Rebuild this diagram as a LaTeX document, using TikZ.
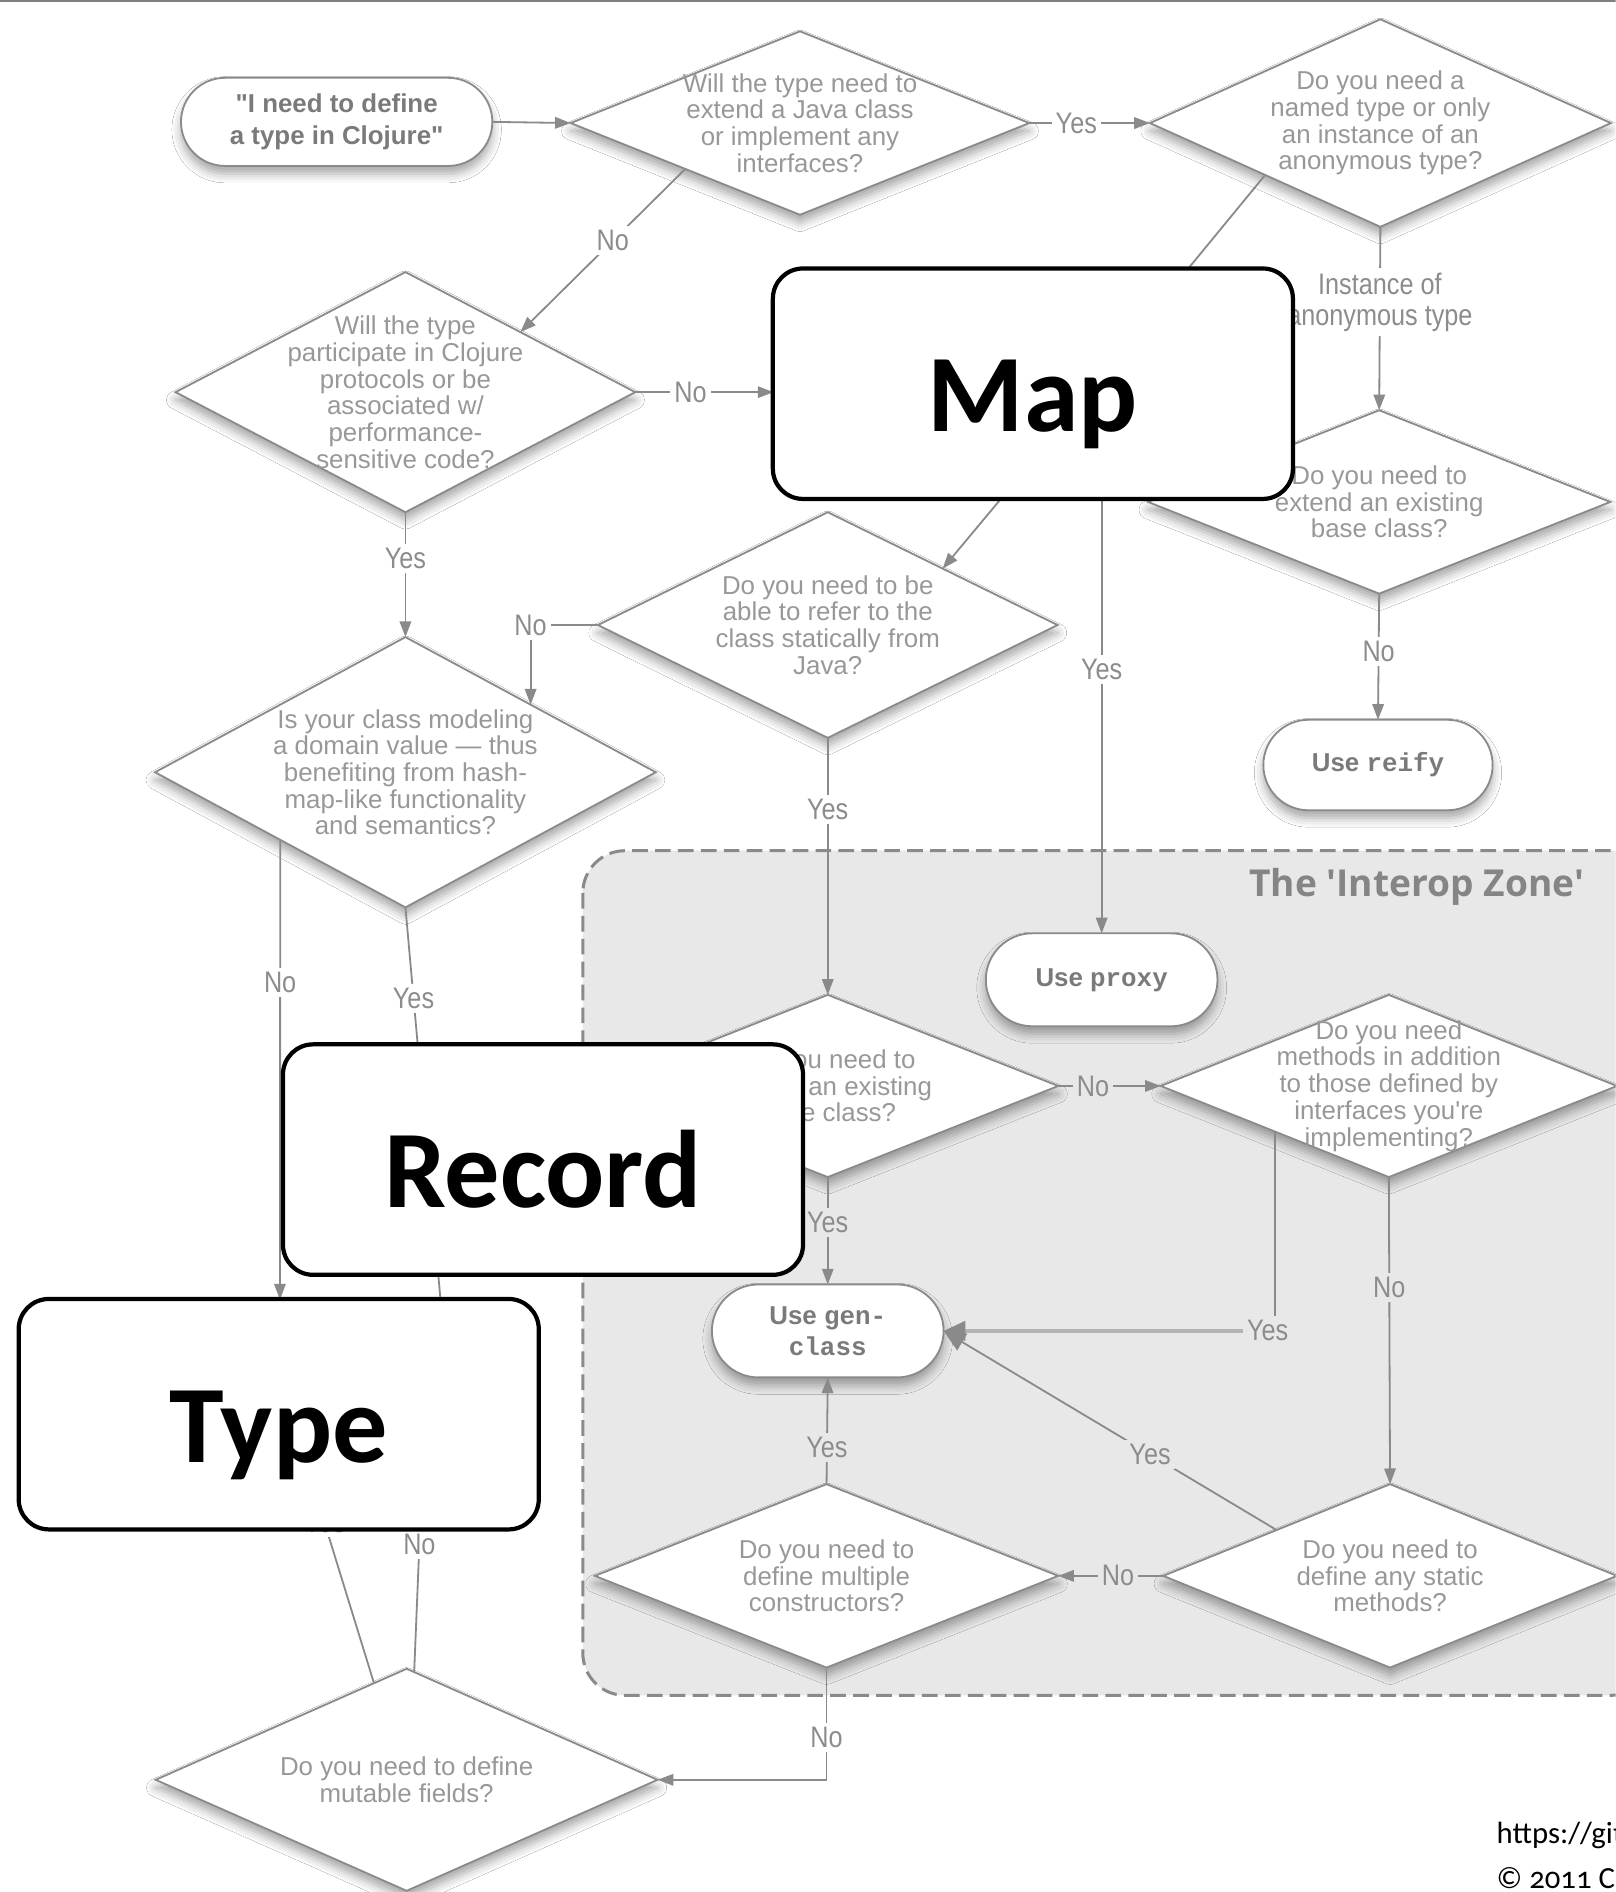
\documentclass[tikz,border=0pt]{standalone}
\usepackage{fontspec}
\setmainfont{Liberation Sans}
\newfontfamily\rawfam[Ligatures=TeXOff]{Liberation Sans}
\newfontfamily\lblfam[FakeStretch=0.85]{Liberation Sans}
\newfontfamily\bigfam{Carlito}
\newfontfamily\credfam[Numbers=OldStyle]{Carlito}
\newfontfamily\zonefam[Ligatures=TeXOff]{Open Sans}
\newfontfamily\monofam{Liberation Mono}
\usetikzlibrary{shapes.geometric,shapes.misc,arrows.meta,shadows.blur,calc}
\definecolor{lgray}{HTML}{8A8A8A}
\definecolor{llgray}{HTML}{B4B4B4}
\definecolor{tgray}{HTML}{989898}
\definecolor{sgray}{HTML}{7A7A7A}
\definecolor{lbgray}{HTML}{8C8C8C}
\definecolor{zonegray}{HTML}{E8E8E8}
\definecolor{ztext}{HTML}{858585}
\begin{document}
\begin{tikzpicture}[x=0.2mm,y=-0.2mm,
  line/.style={draw=lgray, line width=0.3mm},
  arr/.style={line, -{Triangle[length=2.6mm,width=1.9mm]}},
  bigarr/.style={line, -{Triangle[length=3.6mm,width=3.2mm]}},
  shad/.style={blur shadow={shadow xshift=0pt, shadow yshift=-1.3mm, shadow blur radius=1.5mm, shadow opacity=35}},
  dsz/.style 2 args={minimum width=#1*0.2mm, minimum height=#2*0.2mm},
  dia/.style={diamond, draw=lgray, line width=0.3mm, fill=white, inner sep=0pt, outer sep=0pt, shad},
  dtext/.style={text=tgray, align=center, inner sep=0pt, font=\fontsize{12.2pt}{12.6pt}\selectfont},
  stad/.style={rounded rectangle, draw=lgray, line width=0.3mm, fill=white, inner sep=0pt, outer sep=0pt, text=sgray, align=center, font=\bfseries\fontsize{12.2pt}{14.7pt}\selectfont, shad},
  lbl/.style={fill=white, inner sep=0.7mm, text=lbgray, align=center, font=\lblfam\fontsize{14pt}{14.7pt}\selectfont},
  zlbl/.style={lbl, fill=zonegray},
  bigbox/.style={draw=black, line width=0.7mm, fill=white, rounded corners=5mm, minimum width=431*0.2mm, minimum height=191*0.2mm, inner sep=0pt, text height=45.4pt, text depth=0pt, font=\bigfam\bfseries\fontsize{52pt}{52pt}\selectfont},
  credit/.style={inner sep=0pt, text=black, font=\credfam\fontsize{14.5pt}{16pt}\selectfont}
]
\useasboundingbox (0,0) rectangle (1339,1568);
\clip (0,0) rectangle (1339,1568);
\fill[white] (0,0) rectangle (1339,1568);
\draw[line width=0.4mm, draw=gray] (0,1) -- (1339,1);

% Interop zone
\draw[draw=lgray, fill=zonegray, line width=0.5mm, dash pattern=on 2.6mm off 1.2mm, rounded corners=7mm] (483,705) rectangle (1370,1405);
\node[anchor=east, inner sep=0pt, text=ztext, font=\zonefam\bfseries\fontsize{17.5pt}{18pt}\selectfont] (zone) at (1313,735) {The 'Interop Zone'};

% terminals
\node[stad, minimum width=258*0.2mm, minimum height=73*0.2mm, font=\rawfam\bfseries\fontsize{12.2pt}{14.7pt}\selectfont] (start) at (279,101) {"I need to define\\a type in Clojure"};
\node[stad, minimum width=190*0.2mm, minimum height=75*0.2mm] (reify) at (1142,634) {Use {\monofam reify}};
\node[stad, minimum width=192*0.2mm, minimum height=77*0.2mm] (proxy) at (913,812) {Use {\monofam proxy}};
\node[stad, minimum width=192*0.2mm, minimum height=77*0.2mm] (gen) at (686,1103) {Use {\monofam gen-}\\{\monofam class}};

% decisions
\node[dia, dsz={380}{152}, label={[dtext]center:{Will the type need to\\extend a Java class\\or implement any\\interfaces?}}] (d1) at (663,102) {};
\node[dia, dsz={382}{172}, label={[dtext]center:{Do you need a\\named type or only\\an instance of an\\anonymous type?}}] (d2) at (1144,102) {};
\node[dia, dsz={381}{199}, label={[dtext]center:{Will the type\\participate in Clojure\\protocols or be\\associated w/\\performance-\\sensitive code?}}] (d3) at (336,325) {};
\node[dia, dsz={381}{187}, label={[dtext]center:{Do you need to be\\able to refer to the\\class statically from\\Java?}}] (d4) at (686,518) {};
\node[dia, dsz={383}{152}, label={[dtext]center:{Do you need to\\extend an existing\\base class?}}] (d5) at (1143,416) {};
\node[dia, dsz={415}{224}, label={[dtext]center:{Is your class modeling\\a domain value — thus\\benefiting from hash-\\map-like functionality\\and semantics?}}] (d6) at (336,640) {};
\node[dia, dsz={382}{151}, label={[dtext]center:{Do you need to\\extend an existing\\base class?}}] (d7) at (686,900) {};
\node[dia, dsz={378}{151}, label={[dtext, font=\rawfam\fontsize{12.2pt}{12.6pt}\selectfont]center:{Do you need\\methods in addition\\to those defined by\\interfaces you're\\implementing?}}] (d8) at (1151,900) {};
\node[dia, dsz={376}{152}, label={[dtext]center:{Do you need to\\define any static\\methods?}}] (d9) at (1152,1306) {};
\node[dia, dsz={384}{152}, label={[dtext]center:{Do you need to\\define multiple\\constructors?}}] (d10) at (685,1306) {};
\node[dia, dsz={416}{184}, label={[dtext]center:{Do you need to define\\mutable fields?}}] (d11) at (337,1475) {};

% free ends (hidden behind the overlay boxes)
\coordinate (hm1) at (641,325);
\coordinate (hm2) at (954,260);
\coordinate (hm3) at (849,390);
\coordinate (hm4) at (913,390);
\coordinate (hno) at (232,1077);
\coordinate (hye) at (368,1110);
\coordinate (hy) at (256,1220);
\coordinate (hn) at (350,1220);
\coordinate (corner) at (d8.south west |- gen.east);

% connectors
\draw[arr] (start.east) -- (d1.west);
\draw[arr] (d1.east) -- node[lbl, pos=0.39] {Yes} (d2.west);
\draw[arr] (d2.south) -- node[lbl, pos=0.41] {Instance of\\anonymous type} (d5.north);
\draw[arr] (d5.south) -- node[lbl, pos=0.46] {No} (reify.north);
\draw[arr] (d1.south west) -- node[lbl, pos=0.44] {No} (d3.north east);
\draw[arr] (d3.east) -- node[lbl, pos=0.40] {No} (hm1);
\draw[line] (d2.south west) -- (hm2);
\draw[arr] (hm3) -- (d4.north east);
\draw[arr] (hm4) -- node[lbl, pos=0.43] {Yes} (proxy.north);
\draw[arr] (d3.south) -- node[lbl, pos=0.37] {Yes} (d6.north);
\draw[arr] (d4.west) -| node[lbl, pos=0.5] {No} (d6.north east);
\draw[arr] (d4.south) -- node[lbl, pos=0.28] {Yes} (d7.north);
\draw[arr] (d6.south west) -- node[lbl, pos=0.31] {No} (hno);
\draw[arr] (d6.south) -- node[lbl, pos=0.21] {Yes} (hye);
\draw[arr] (d7.east) -- node[zlbl, pos=0.34] {No} (d8.west);
\draw[arr] (d7.south) -- node[zlbl, pos=0.42] {Yes} (gen.north);
\draw[line] (d8.south west) -- (corner);
\draw[bigarr, draw=llgray, line width=0.6mm, -{Triangle[length=3.6mm,width=3.2mm,color=lgray]}] (corner) -- (gen.east);
\node[zlbl] (yes8) at ($(corner)+(-6,0)$) {Yes};
\draw[arr] (d8.south) -- node[zlbl, pos=0.36] {No} (d9.north);
\draw[bigarr] (d9.north west) -- node[zlbl, pos=0.38] {Yes} (gen.east);
\draw[arr] (d9.west) -- node[zlbl, pos=0.43] {No} (d10.east);
\draw[arr] (d10.north) -- node[zlbl, pos=0.34] {Yes} (gen.south);
\draw[arr] (d10.south) |- node[lbl, pos=0.31] {No} (d11.east);
\draw[arr] ($(d11.north)!0.13!(d11.west)$) -- node[lbl, pos=0.76] {Yes} (hy);
\draw[arr] ($(d11.north)!0.03!(d11.east)$) -- node[lbl, pos=0.64] {No} (hn);

% overlay boxes
\node[bigbox] (map) at (856,318) {Map};
\node[bigbox] (rec) at (450,961) {Record};
\node[bigbox] (typ) at (231,1172) {Type};

% credit
\node[anchor=west, credit] (url) at (1240,1521) {https://github.com/cemerick};
\node[anchor=west, credit] (copy) at (1240,1556) {© 2011 Chas Emerick};
\end{tikzpicture}
\end{document}
